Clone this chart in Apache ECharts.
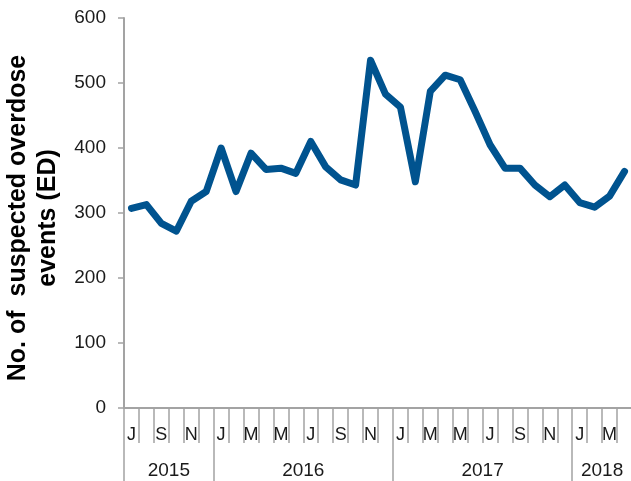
<!DOCTYPE html>
<html>
<head>
<meta charset="utf-8">
<script src="https://cdn.jsdelivr.net/npm/echarts@6/dist/echarts.min.js"></script>
<style>html,body{margin:0;padding:0;background:#fff;}#c{width:631px;height:481px;}</style>
</head>
<body>
<div id="c"></div>
<script>
// Months Jul 2015 .. Apr 2018
const monthLabels = ['J','A','S','O','N','D',
  'J','F','M','A','M','J','J','A','S','O','N','D',
  'J','F','M','A','M','J','J','A','S','O','N','D',
  'J','F','M','A'];
const monthYears = [2015,2015,2015,2015,2015,2015,
  2016,2016,2016,2016,2016,2016,2016,2016,2016,2016,2016,2016,
  2017,2017,2017,2017,2017,2017,2017,2017,2017,2017,2017,2017,
  2018,2018,2018,2018];
const events = [307,313,284,272,318,333,
  400,333,392,367,369,361,410,371,351,343,535,483,
  463,348,487,512,505,456,405,369,369,343,325,343,
  316,309,326,364];
const yTicks = [0,100,200,300,400,500,600];

// derive year groups from month years
const years = [];
const yearStart = [];
monthYears.forEach((y, i) => {
  if (years[years.length - 1] !== y) { years.push(y); yearStart.push(i); }
});
const yearEnd = yearStart.slice(1).concat([monthYears.length]);
const yearMid = yearStart.map((s, i) => (s + yearEnd[i]) / 2);

const axisGray = '#a3a3a3';
const font = 'Liberation Sans, Arial, sans-serif';
const chart = echarts.init(document.getElementById('c'), null, {renderer: 'canvas'});
chart.setOption({
  animation: false,
  backgroundColor: '#ffffff',
  grid: {left: 124, right: -1, top: 18, bottom: 73, containLabel: false, outerBoundsMode: 'none'},
  xAxis: [{
    type: 'category',
    data: monthLabels,
    boundaryGap: true,
    position: 'bottom',
    axisLine: {show: true, lineStyle: {color: axisGray, width: 2}},
    axisTick: {show: true, interval: 0, length: 35, lineStyle: {color: axisGray, width: 1.5}},
    axisLabel: {interval: 1, margin: 18, color: '#1a1a1a', fontSize: 18, fontFamily: font}
  }, {
    type: 'value',
    min: 0,
    max: monthLabels.length,
    position: 'bottom',
    splitLine: {show: false},
    axisLine: {show: false},
    axisTick: {show: true, customValues: yearStart, length: 73, lineStyle: {color: axisGray, width: 1.5}},
    axisLabel: {
      customValues: yearMid,
      margin: 53,
      color: '#1a1a1a', fontSize: 19, fontFamily: font,
      formatter: function (v) {
        const i = yearMid.indexOf(v);
        return i >= 0 ? String(years[i]) : '';
      }
    }
  }],
  yAxis: {
    type: 'value',
    min: yTicks[0],
    max: yTicks[yTicks.length - 1],
    interval: 100,
    name: 'No. of  suspected overdose\nevents (ED)',
    nameLocation: 'middle',
    nameGap: 55,
    nameTextStyle: {fontSize: 25, fontWeight: 'bold', fontFamily: font, color: '#000', lineHeight: 30, padding: [0, 10, 0, 0]},
    splitLine: {show: false},
    axisLine: {show: true, lineStyle: {color: axisGray, width: 2}},
    axisTick: {show: true, length: 6, lineStyle: {color: axisGray, width: 1.5}},
    axisLabel: {margin: 18, color: '#1a1a1a', fontSize: 19, fontFamily: font}
  },
  series: [{
    type: 'line',
    data: events,
    xAxisIndex: 0,
    symbol: 'none',
    lineStyle: {color: '#00538f', width: 7, cap: 'round', join: 'round'}
  }]
});
</script>
</body>
</html>
